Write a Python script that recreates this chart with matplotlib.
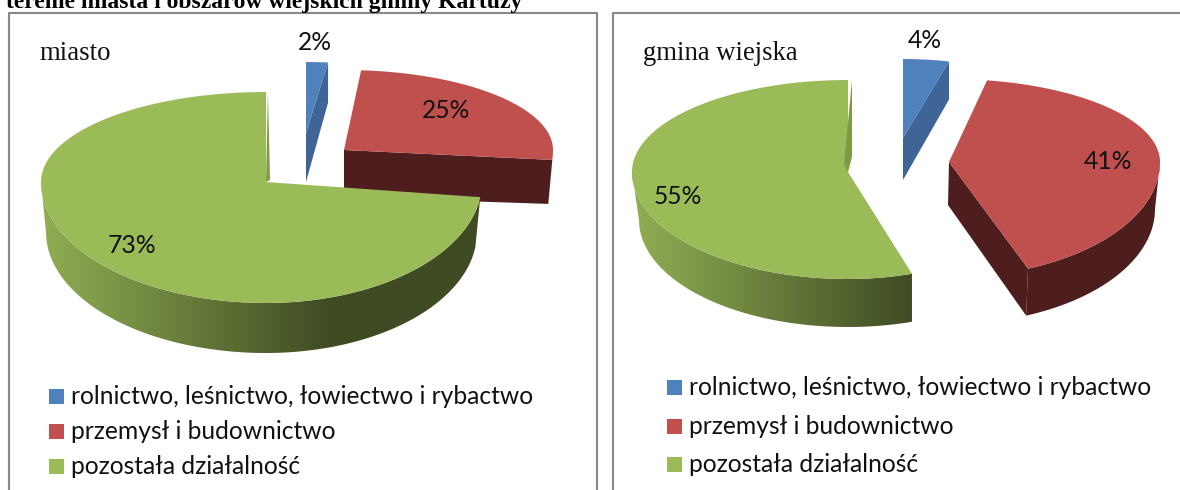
import numpy as np
import matplotlib
matplotlib.use('Agg')
import matplotlib.pyplot as plt
from matplotlib.colors import LinearSegmentedColormap
from matplotlib.patches import Polygon, Rectangle

CATEGORIES = ['rolnictwo, leśnictwo, łowiectwo i rybactwo', 'przemysł i budownictwo', 'pozostała działalność']
MIASTO = [2, 25, 73]
GMINA = [4, 41, 55]
TITLE = 'terenie miasta i obszarów wiejskich gminy Kartuzy'

TOP_COLORS = ['#4F81BD', '#C0504D', '#9BBB59']
WALL_COLORS = ['#3E6595', '#4E1E1E', '#3F4B23']
STRIP_COLOR = '#7E9B46'
GRAD_LIGHT = '#8FAC52'
FRAME = '#888888'

# slice geometry in pixels: tip, radii (right, left, up, down), rotation in degrees
LEFT_GEO = [dict(tip=(306, 133), r=(176, 176, 71, 71), rot=0, d=(40, 49)),
            dict(tip=(344, 150), r=(209, 209, 80, 121), rot=-2.5, d=(44, 47)),
            dict(tip=(266, 182), r=(216, 225, 90, 121), rot=0, d=(50, 50))]
RIGHT_GEO = [dict(tip=(903, 138), r=(185, 185, 79, 79), rot=0, d=(38, 42)),
             dict(tip=(949, 162), r=(211, 211, 83, 115), rot=-4, d=(47, 43)),
             dict(tip=(848, 172), r=(207, 216, 92, 107), rot=0, d=(48, 48))]

plt.rcParams['font.family'] = ['Lato', 'DejaVu Sans']
fig = plt.figure(figsize=(11.8, 4.9), dpi=100, facecolor='white')
ax = fig.add_axes([0, 0, 1, 1])
ax.set_axis_off()


def arc(geo, a0, a1, shrink=(0, 0), dy=0):
    a = np.radians(np.linspace(a0, a1, 150))
    s, c = np.sin(a), np.cos(a)
    rr, rl, rt, rb = geo['r']
    x = geo['tip'][0] + s * np.where(s > 0, rr - shrink[0], rl - shrink[1])
    y = geo['tip'][1] - c * np.where(c > 0, rt, rb) + dy
    return np.column_stack([x, y])


def gradient_wall(pts, x0, x1):
    # wall shading runs from light on the left to dark at x1
    cmap = LinearSegmentedColormap.from_list('w', [GRAD_LIGHT, WALL_COLORS[2]])
    xs = np.linspace(pts[:, 0].min(), pts[:, 0].max(), 400)
    grad = np.clip((xs - x0) / (x1 - x0), 0, 1).reshape(1, -1)
    im = ax.imshow(grad, cmap=cmap, vmin=0, vmax=1, aspect='auto', zorder=2,
                   extent=(xs[0], xs[-1], pts[:, 1].max(), pts[:, 1].min()))
    clip = Polygon(pts, closed=True, transform=ax.transData, fc='none', ec='none')
    ax.add_patch(clip)
    im.set_clip_path(clip)


def draw_pie(values, geos, grad, strip, shrink_green, red_outer):
    angles = np.cumsum([0] + values) * 3.6

    # blue slice, the inner cut face is visible
    g = geos[0]
    a0, a1 = angles[0] + g['rot'], angles[1] + g['rot']
    top = arc(g, a0, a1)
    end = top[-1]
    wall = [g['tip'], end, (end[0], end[1] + g['d'][0]), (g['tip'][0], g['tip'][1] + g['d'][1])]
    ax.add_patch(Polygon(wall, fc=WALL_COLORS[0], ec='none', zorder=2))
    ax.add_patch(Polygon(np.vstack([g['tip'], top]), fc=TOP_COLORS[0], ec='none', zorder=3))

    # red slice
    g = geos[1]
    a0, a1 = angles[1] + g['rot'], angles[2] + g['rot']
    top = arc(g, a0, a1)
    end = top[-1]
    if red_outer:
        out = arc(g, 90, a1)
        low = arc(g, 90, a1, shrink=(5, 5), dy=g['d'][0])
        wall = np.vstack([g['tip'], out, low[::-1]])
        wall = np.vstack([out, low[::-1]])
        ax.add_patch(Polygon(wall, fc=WALL_COLORS[1], ec='none', zorder=2))
        wall = np.array([g['tip'], end, low[-1], (g['tip'][0] - 1, g['tip'][1] + g['d'][1])])
    else:
        wall = np.array([g['tip'], end, (end[0] - 4, end[1] + g['d'][0]),
                         (g['tip'][0], g['tip'][1] + g['d'][1])])
    ax.add_patch(Polygon(wall, fc=WALL_COLORS[1], ec='none', zorder=2))
    ax.add_patch(Polygon(np.vstack([g['tip'], top]), fc=TOP_COLORS[1], ec='none', zorder=3))

    # green slice with shaded outer wall
    g = geos[2]
    a0, a1 = angles[2] + g['rot'], angles[3] + g['rot']
    out = arc(g, a0, 270)
    low = arc(g, a0, 270, shrink=shrink_green, dy=g['d'][0])
    gradient_wall(np.vstack([out, low[::-1]]), *grad)
    top = arc(g, a0, a1)
    ax.add_patch(Polygon(np.vstack([g['tip'], top]), fc=TOP_COLORS[2], ec='none', zorder=4))
    ax.add_patch(Polygon(strip, fc=STRIP_COLOR, ec='none', zorder=5))


def legend(x, ys, x_text):
    for name, col, y in zip(CATEGORIES, TOP_COLORS, ys):
        ax.add_patch(Rectangle((x, y - 7.5), 15, 15, fc=col, ec='none', zorder=6))
        ax.text(x_text, y, name, fontsize=17.7, va='center', ha='left', color='#111111', zorder=6)


def labels(values, spots):
    for v, (x, y) in zip(values, spots):
        ax.text(x, y, f'{v}%', fontsize=17.7, ha='center', va='center', color='#111111', zorder=7)


ax.plot([8.5, 8.5, 597, 597], [490, 13, 13, 490], color=FRAME, lw=1.5, zorder=1)
ax.plot([613, 613, 1180], [490, 13, 13], color=FRAME, lw=1.5, zorder=1)

draw_pie(MIASTO, LEFT_GEO, (46, 330), [(268, 92), (270, 180), (266, 182)], (5, 5), False)
draw_pie(GMINA, RIGHT_GEO, (639, 912), [(852, 80), (852, 157), (848, 172), (844, 165)], (0, 7), True)

labels(MIASTO, [(315, 42), (446, 110), (132, 245)])
labels(GMINA, [(925, 40), (1108, 161), (678, 196)])
legend(49, [396, 431, 466], 71)
legend(667, [387, 426, 464], 689)

ax.text(39, 60, 'miasto', family='Liberation Serif', fontsize=19.3, color='#111111')
ax.text(643, 60, 'gmina wiejska', family='Liberation Serif', fontsize=19.2, color='#111111')
ax.text(6, 8, TITLE, family='Liberation Serif', fontweight='bold', fontsize=17, color='black')

ax.set_xlim(0, 1180)
ax.set_ylim(490, 0)
fig.savefig('out.png', dpi=100)
